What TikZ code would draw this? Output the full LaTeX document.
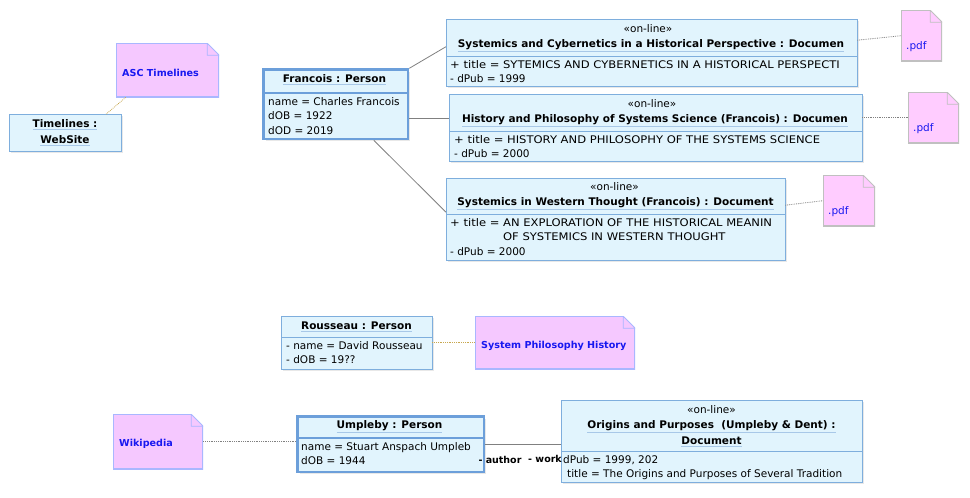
\documentclass[tikz,border=0pt]{standalone}
\usepackage{fontspec}
\setmainfont{DejaVu Sans}
\newfontfamily\capsfont{DejaVu Sans}[FakeStretch=1.1]
\usetikzlibrary{positioning,shadows}

\definecolor{boxfill}{HTML}{E1F4FD}
\definecolor{boxline}{HTML}{7EAEDD}
\definecolor{boxthick}{HTML}{6C9FDA}
\definecolor{notefill}{HTML}{F5C8FF}
\definecolor{noteline}{HTML}{A9B7FF}
\definecolor{pdffill}{HTML}{FFCCFF}
\definecolor{pdfedge}{HTML}{C0C0C0}
\definecolor{notetext}{HTML}{1818F0}
\definecolor{linkgray}{HTML}{808080}
\definecolor{anchorcol}{HTML}{C8A850}
\definecolor{ulcol}{HTML}{A8C8E8}

% underline in a light colour
\newcommand\uln[1]{\setbox0=\hbox{#1}\vtop{\copy0\nointerlineskip\kern1.2pt\hbox{\color{ulcol}\rule{\wd0}{0.8pt}}}}

\tikzset{
  obj/.style={draw=boxline, fill=boxfill, anchor=north west, inner sep=0pt,
    drop shadow={shadow xshift=2pt, shadow yshift=-2pt, opacity=0.18}},
  objbold/.style={obj, draw=boxthick, line width=2.6pt},
  note/.style 2 args={anchor=north west, inner sep=0pt, fill=#1, path picture={
    \fill[white] ([xshift=-12pt]path picture bounding box.north east) -- (path picture bounding box.north east)
      -- ([yshift=-12pt]path picture bounding box.north east) -- cycle;
    \draw[#2, line width=1.6pt] ([xshift=-12pt]path picture bounding box.north east) -- (path picture bounding box.north west)
      -- (path picture bounding box.south west) -- (path picture bounding box.south east)
      -- ([yshift=-12pt]path picture bounding box.north east);
    \filldraw[fill=#1, draw=#2, line width=0.8pt] ([xshift=-12pt]path picture bounding box.north east)
      -- ([xshift=-12pt,yshift=-12pt]path picture bounding box.north east)
      -- ([yshift=-12pt]path picture bounding box.north east) -- cycle;}},
  stereo/.style={inner sep=0pt, font=\fontsize{10.5}{12}\selectfont},
  ttl/.style={inner sep=0pt, align=center, font=\bfseries\fontsize{10.5}{16}\selectfont},
  attr/.style={inner sep=0pt, anchor=north west, align=left, font=\fontsize{10.5}{14.8}\selectfont},
  notetxt/.style={inner sep=0pt, anchor=west, text=notetext, font=\fontsize{10.5}{12}\selectfont},
  notebold/.style={notetxt, font=\bfseries\fontsize{9.6}{12}\selectfont},
  role/.style={inner sep=0pt, font=\bfseries\fontsize{9.5}{10}\selectfont},
  link/.style={draw=linkgray, line width=0.8pt},
  anchorline/.style={draw=anchorcol, densely dotted, line width=0.8pt},
  pdfline/.style={draw=linkgray, densely dotted, line width=0.8pt}
}

\begin{document}
\begin{tikzpicture}[x=1pt, y=-1pt]

  \fill[white] (0,0) rectangle (970,498);

  % Website and its note
  \node[note={notefill}{noteline}, minimum width=103pt, minimum height=54pt] (asc) at (116,43) {};
  \node[notebold] (ascT) at (122,73) {ASC Timelines};
  \node[obj, minimum width=112pt, minimum height=37pt] (web) at (9,114) {};
  \node[ttl] (webT) at (65,133) {\uln{Timelines :}\\\uln{WebSite}};
  \draw[anchorline] ([xshift=-42pt]asc.south) -- ([xshift=41pt]web.north);

  % Francois
  \node[objbold, minimum width=144.4pt, minimum height=69.4pt] (fra) at (262.3,68.3) {};
  \draw[boxthick, line width=2pt] (fra.west |- 0,93) -- (fra.east |- 0,93);
  \node[ttl] (fraT) at (334.5,80) {\uln{Francois : Person}};
  \node[attr] (fraA) at (268,97) {name = Charles Francois\\dOB = 1922\\dOD = 2019};

  % documents of Francois
  \node[obj, minimum width=411pt, minimum height=67pt] (doc1) at (446,19) {};
  \draw[boxline] (doc1.west |- 0,56) -- (doc1.east |- 0,56);
  \node[stereo] (doc1S) at (648,29) {«on-line»};
  \node[ttl] (doc1T) at (651,46) {\uln{Systemics and Cybernetics in a Historical Perspective : Documen}};
  \node[attr] (doc1A) at (450,60) {{\capsfont + title = SYTEMICS AND CYBERNETICS IN A HISTORICAL PERSPECTI}\\- dPub = 1999};

  \node[obj, minimum width=413pt, minimum height=67pt] (doc2) at (449,94) {};
  \draw[boxline] (doc2.west |- 0,131) -- (doc2.east |- 0,131);
  \node[stereo] (doc2S) at (652,104) {«on-line»};
  \node[ttl] (doc2T) at (655,121) {\uln{History and Philosophy of Systems Science (Francois) : Documen}};
  \node[attr] (doc2A) at (454,135) {{\capsfont + title = HISTORY AND PHILOSOPHY OF THE SYSTEMS SCIENCE}\\- dPub = 2000};

  \node[obj, minimum width=339pt, minimum height=82pt] (doc3) at (446,178) {};
  \draw[boxline] (doc3.west |- 0,214) -- (doc3.east |- 0,214);
  \node[stereo] (doc3S) at (614.5,187) {«on-line»};
  \node[ttl] (doc3T) at (615.5,204) {\uln{Systemics in Western Thought (Francois) : Document}};
  \node[attr] (doc3A) at (450,218) {{\capsfont + title = AN EXPLORATION OF THE HISTORICAL MEANIN}\\
    {\capsfont\phantom{+ title = }OF SYSTEMICS IN WESTERN THOUGHT}\\- dPub = 2000};

  \draw[link] (fra.north east) -- ([yshift=6pt]doc1.west);
  \draw[link] ([yshift=-14pt]fra.east) -- ([yshift=-14pt]fra.east -| doc2.west);
  \draw[link] ([xshift=38pt]fra.south) -- ([yshift=7pt]doc3.west);

  % pdf notes
  \node[note={pdffill}{pdfedge}, minimum width=41pt, minimum height=51pt] (pdf1) at (901,10) {};
  \node[notetxt] (pdf1T) at (906,47) {.pdf};
  \node[note={pdffill}{pdfedge}, minimum width=51pt, minimum height=51pt] (pdf2) at (908,92) {};
  \node[notetxt] (pdf2T) at (913,129) {.pdf};
  \node[note={pdffill}{pdfedge}, minimum width=52pt, minimum height=51pt] (pdf3) at (823,175) {};
  \node[notetxt] (pdf3T) at (828,212) {.pdf};
  \draw[pdfline] ([yshift=12.5pt]doc1.east) -- (pdf1.west);
  \draw[pdfline] (doc2.east |- pdf2.west) -- (pdf2.west);
  \draw[pdfline] ([yshift=14pt]doc3.east) -- (pdf3.west);

  % Rousseau
  \node[obj, minimum width=151pt, minimum height=53pt] (rou) at (281,316) {};
  \draw[boxline] (rou.west |- 0,337) -- (rou.east |- 0,337);
  \node[ttl] (rouT) at (356.5,327) {\uln{Rousseau : Person}};
  \node[attr] (rouA) at (286,341) {- name = David Rousseau\\- dOB = 19??};
  \node[note={notefill}{noteline}, minimum width=160pt, minimum height=53pt] (sph) at (475,316) {};
  \node[notebold] (sphT) at (481,346) {System Philosophy History};
  \draw[anchorline] (rou.east) -- (sph.west);

  % Umpleby
  \node[note={notefill}{noteline}, minimum width=90pt, minimum height=55pt] (wiki) at (113,414) {};
  \node[notebold] (wikiT) at (119,444) {Wikipedia};
  \node[objbold, minimum width=186.4pt, minimum height=55.4pt] (ump) at (296.3,415.3) {};
  \draw[boxthick, line width=2pt] (ump.west |- 0,438) -- (ump.east |- 0,438);
  \node[ttl] (umpT) at (389.5,427) {\uln{Umpleby : Person}};
  \node[attr] (umpA) at (301,442) {name = Stuart Anspach Umpleb\\dOB = 1944};
  \draw[pdfline] (wiki.east) -- (wiki.east -| ump.west);

  \node[obj, minimum width=301pt, minimum height=82pt] (doc4) at (561,400) {};
  \draw[boxline] (doc4.west |- 0,451) -- (doc4.east |- 0,451);
  \node[stereo] (doc4S) at (711.5,410) {«on-line»};
  \node[ttl] (doc4T) at (711.5,434) {\uln{Origins and Purposes\ \ (Umpleby \& Dent) :}\\\uln{Document}};
  \node[attr] (doc4A) at (563,455) {dPub = 1999, 202\\\hspace*{4pt}title = The Origins and Purposes of Several Tradition};

  \draw[link] (ump.east) -- (ump.east -| doc4.west);
  \node[role, anchor=west] (auth) at ([xshift=-7pt,yshift=-16pt]ump.east) {- author};
  \node[role, anchor=east] (work) at ([xshift=1pt,yshift=-18pt]doc4.west) {- work};

\end{tikzpicture}
\end{document}
